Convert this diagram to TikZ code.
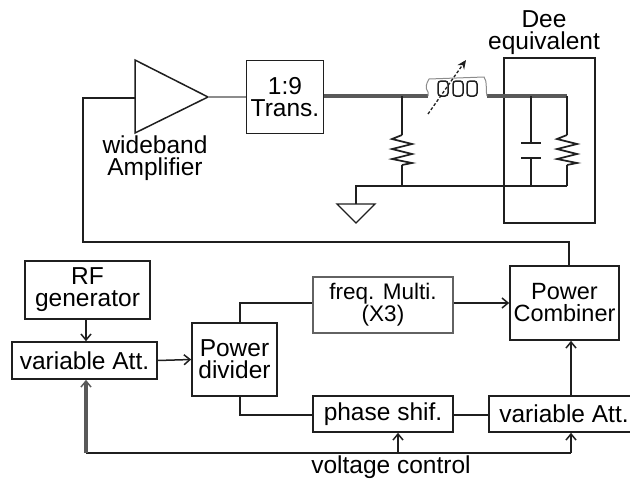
\documentclass[tikz,border=0pt]{standalone}
\usepackage{fontspec}
\setmainfont{Liberation Sans}
\usetikzlibrary{arrows.meta}
\definecolor{ink}{gray}{0.12}
\definecolor{soft}{gray}{0.55}
\definecolor{steel}{gray}{0.35}
\tikzset{
  wire/.style={draw=ink,line width=1.5pt},
  heavywire/.style={draw=steel,line width=3.4pt},
  palewire/.style={draw=soft,line width=1.2pt},
  flow/.style={wire,-{Straight Barb[length=6pt,width=10pt,line width=1.5pt]}},
  block/.style={draw=ink,line width=1.7pt,inner sep=0pt,align=center,text=black,
    font=\fontsize{24.5}{22}\selectfont},
  label/.style={inner sep=0pt,align=center,text=black,font=\fontsize{24.5}{22}\selectfont}
}
\begin{document}
\begin{tikzpicture}[x=1pt,y=-1pt]
\useasboundingbox (0,0) rectangle (630,479);
\clip (0,0) rectangle (630,479);
% blocks
\node[block,minimum width=77pt,minimum height=73pt] (trans) at (285,97) {1:9\\Trans.};
\node[block,minimum width=91pt,minimum height=165pt] (dee) at (549.5,140.5) {};
\node[block,minimum width=125pt,minimum height=58pt] (rf) at (87.5,290) {RF\\generator};
\node[block,minimum width=145pt,minimum height=37pt] (att1) at (84.5,360.5) {variable Att.};
\node[block,minimum width=85pt,minimum height=73pt] (div) at (234.5,359.5) {Power\\divider};
\node[block,draw=ink!70,minimum width=140pt,minimum height=56pt,font=\fontsize{22.5}{22}\selectfont] (freq) at (383,305) {freq. Multi.\\(X3)};
\node[block,minimum width=140pt,minimum height=36pt] (phase) at (383,414) {phase shif.};
\node[block,minimum width=150pt,minimum height=36pt] (att2) at (564,414) {variable Att.};
\node[block,minimum width=109pt,minimum height=74pt,font=\fontsize{23.5}{22}\selectfont] (comb) at (564.5,303) {Power\\Combiner};
% amplifier
\coordinate (a1) at (135,60); \coordinate (a2) at (135,133); \coordinate (a3) at (208,97);
\coordinate (ain) at (135,98);
\draw[wire,line join=miter] (a1) -- (a3) -- (a2) -- cycle;
\node[label] (ampl) at (155,158) {wideband\\Amplifier};
\draw[palewire] (a3) -- (trans.west);
% feedback
\coordinate (fb1) at (83,98); \coordinate (fb2) at (83,242); \coordinate (fb3) at (569,242);
\coordinate (fb4) at (569,266);
\draw[wire] (ain) -- (fb1) -- (fb2) -- (fb3) -- (fb4);
% Dee label
\node[label] (deelabel) at (544,33) {Dee\\equivalent};
% RF line
\coordinate (l1) at (428,96); \coordinate (l2) at (487,96); \coordinate (d1) at (567,96);
\coordinate (rtop) at (402,96);
\draw[heavywire] (trans.east |- l1) -- (l1);
\draw[heavywire] (l2) -- (d1);
% inductor
\draw[palewire,line width=1pt] (l1) -- (428,92) .. controls (425,88) and (426,84) .. (429,79) -- (484,77)
   .. controls (488,82) and (485,90) .. (487,96);
\foreach \cx in {443,458,472}{
  \draw[ink,line width=1.5pt,rounded corners=3pt] (\cx-5,81) rectangle (\cx+5,96);
}
\coordinate (v1) at (428,114); \coordinate (v2) at (466,60);
\draw[wire,densely dashed,line width=1.3pt,-{Stealth[length=9pt,width=8pt]}] (v1) -- (v2);
% resistors
\newcommand{\zigres}[1]{%
  \draw[wire,line width=1.7pt] (#1,135) -- (#1-10,139) -- (#1+10,144) -- (#1-10,149) -- (#1+10,154) -- (#1-10,159) -- (#1+10,163) -- (#1,165);}
\zigres{402}
\zigres{567}
\coordinate (gl) at (356,186); \coordinate (r1b) at (402,186); \coordinate (cb) at (531,186); \coordinate (r2b) at (567,186);
\draw[wire] (rtop) -- (402,135);
\draw[wire] (402,165) -- (r1b);
\draw[wire] (d1) -- (567,135);
\draw[wire] (567,165) -- (r2b);
% capacitor
\draw[wire] (531,96) -- (531,143);
\draw[wire] (521,143) -- (541,143);
\draw[wire] (521,158) -- (541,158);
\draw[wire] (531,158) -- (cb);
% ground
\coordinate (g0) at (356,204);
\draw[wire] (r2b) -- (gl) -- (g0);
\draw[wire,line width=1.3pt] (337,204) -- (375,204) -- (356,223) -- cycle;
% lower connectors
\draw[flow] (rf.south -| 86,0) -- (att1.north -| 86,0);
\draw[flow] (att1.east) -- (div.west);
\draw[wire] (div.north -| 240,0) -- (240,303) -- (freq.west |- 0,303);
\draw[flow] (freq.east |- 0,303) -- (comb.west |- 0,303);
\draw[wire] (div.south -| 240,0) -- (240,415) -- (phase.west |- 0,415);
\draw[wire] (phase.east |- 0,415) -- (att2.west |- 0,415);
\draw[flow] (att2.north -| 571,0) -- (comb.south -| 571,0);
% control bus
\coordinate (bl) at (86,453); \coordinate (bm) at (398,453); \coordinate (br) at (571,453);
\draw[wire] (bl) -- (br);
\draw[heavywire,-{Straight Barb[length=6pt,width=10pt,line width=1.5pt]}] (bl) -- (att1.south -| bl);
\draw[flow] (bm) -- (phase.south -| bm);
\draw[flow] (br) -- (att2.south -| br);
\node[label] (vc) at (391,467) {voltage control};
\end{tikzpicture}
\end{document}
